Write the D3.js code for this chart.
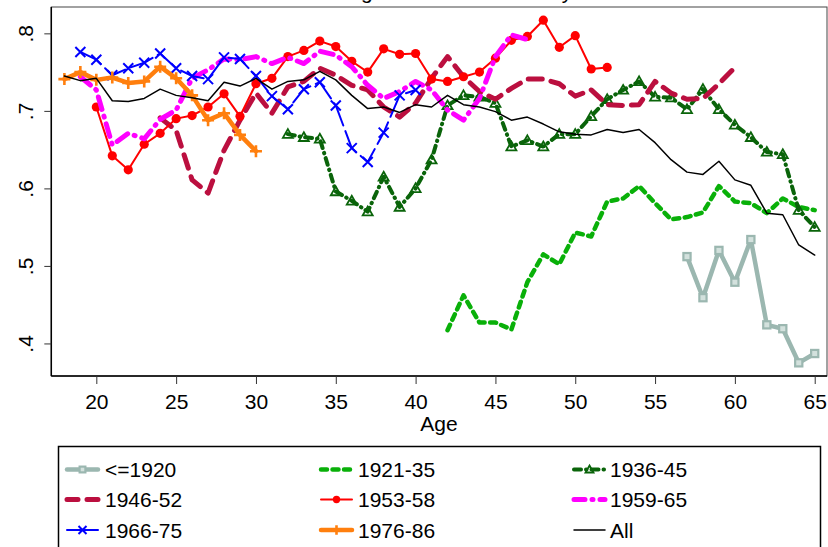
<!DOCTYPE html>
<head>
  <meta charset="utf-8">
  <script src="https://cdn.jsdelivr.net/npm/d3@7"></script>
  <style>
    body { margin:0; background:#fff; }
    text { font-family: Arial, "Liberation Sans", sans-serif; fill:#000; }
  </style>
</head>
<body>
<script>
  // data, one array per cohort (ages + values)
  var ages1920 = [57,58,59,60,61,62,63,64,65];
  var vals1920 = [.512,.459,.520,.479,.534,.424,.419,.375,.387];

  var ages2135 = [42,43,44,45,46,47,48,49,50,51,52,53,54,55,56,57,58,59,60,61,62,63,64,65];
  var vals2135 = [.417,.462,.427,.427,.418,.479,.515,.502,.543,.538,.583,.587,.603,.581,.560,.563,.569,.603,.583,.581,.568,.587,.576,.572];

  var ages3645 = [32,33,34,35,36,37,38,39,40,41,42,43,44,45,46,47,48,49,50,51,52,53,54,55,56,57,58,59,60,61,62,63,64,65];
  var vals3645 = [.670,.666,.664,.596,.584,.570,.615,.576,.600,.637,.707,.720,.718,.710,.654,.662,.654,.670,.670,.693,.715,.727,.738,.718,.717,.702,.728,.702,.682,.666,.647,.644,.572,.550];

  var ages4652 = [24,25,26,27,28,29,30,31,32,33,34,35,36,37,38,39,40,41,42,43,44,45,46,47,48,49,50,51,52,53,54,55,56,57,58,59,60];
  var vals4652 = [.691,.675,.611,.594,.649,.688,.723,.697,.731,.738,.755,.746,.733,.727,.705,.692,.710,.742,.770,.744,.725,.715,.729,.741,.741,.735,.719,.727,.708,.707,.708,.738,.723,.715,.716,.735,.756];

  var ages5358 = [20,21,22,23,24,25,26,27,28,29,30,31,32,33,34,35,36,37,38,39,40,41,42,43,44,45,46,47,48,49,50,51,52];
  var vals5358 = [.705,.642,.624,.657,.671,.690,.694,.705,.722,.693,.735,.742,.770,.778,.790,.783,.764,.750,.780,.773,.774,.741,.738,.744,.750,.768,.791,.796,.817,.782,.797,.754,.756];

  var ages5965 = [19,20,21,22,23,24,25,26,27,28,29,30,31,32,33,34,35,36,37,38,39,40,41,42,43,44,45,46,47];
  var vals5965 = [.744,.727,.656,.671,.664,.689,.701,.742,.753,.767,.766,.770,.761,.769,.761,.777,.772,.757,.733,.716,.725,.738,.727,.701,.688,.716,.770,.798,.792];

  var ages6675 = [19,20,21,22,23,24,25,26,27,28,29,30,31,32,33,34,35,36,37,38,39,40];
  var vals6675 = [.776,.766,.746,.755,.762,.774,.755,.745,.741,.769,.767,.745,.719,.702,.728,.737,.707,.652,.634,.672,.720,.727];

  var ages7686 = [18,19,20,21,22,23,24,25,26,27,28,29,30];
  var vals7686 = [.741,.750,.740,.743,.736,.738,.757,.742,.720,.688,.697,.669,.648];

  var agesAll = [18,19,20,21,22,23,24,25,26,27,28,29,30,31,32,33,34,35,36,37,38,39,40,41,42,43,44,45,46,47,48,49,50,51,52,53,54,55,56,57,58,59,60,61,62,63,64,65];
  var valsAll = [.745,.739,.742,.713,.712,.716,.728,.720,.717,.713,.737,.732,.742,.728,.738,.740,.751,.740,.720,.703,.705,.698,.708,.705,.720,.708,.705,.699,.688,.692,.683,.673,.670,.669,.676,.672,.676,.659,.637,.621,.618,.635,.611,.604,.568,.566,.527,.514];

  var xTicks = [20,25,30,35,40,45,50,55,60,65];
  var yTicks = [.4,.5,.6,.7,.8];
  var yTickLabels = [".4",".5",".6",".7",".8"];

  // series table built from the arrays above, with drawing styles
  function pts(a, v) { return a.map(function(d, i) { return {age: d, v: v[i]}; }); }
  var series = [
    {name: "<=1920",  data: pts(ages1920, vals1920), color: "#9bb7b0", width: 4.5, dash: null,       keyDash: null,       marker: "square"},
    {name: "1921-35", data: pts(ages2135, vals2135), color: "#09b009", width: 4.5, dash: "6,5.5",    keyDash: "6,5.5",    marker: null},
    {name: "1936-45", data: pts(ages3645, vals3645), color: "#0a640a", width: 4,   dash: "7,5,0.5,5", keyDash: "7,5,0.5,5", marker: "triangle"},
    {name: "1946-52", data: pts(ages4652, vals4652), color: "#bb0f3f", width: 5,   dash: "14,9",     keyDash: "11,9",     marker: null},
    {name: "1953-58", data: pts(ages5358, vals5358), color: "#ff0000", width: 2,   dash: null,       keyDash: null,       marker: "circle"},
    {name: "1959-65", data: pts(ages5965, vals5965), color: "#ff00ff", width: 5,   dash: "13,7,1,7", keyDash: "11,7,1,7", marker: null},
    {name: "1966-75", data: pts(ages6675, vals6675), color: "#0000ff", width: 2,   dash: "24,6",     keyDash: null,       marker: "x"},
    {name: "1976-86", data: pts(ages7686, vals7686), color: "#ff7f0e", width: 4.5, dash: null,       keyDash: null,       marker: "plus"},
    {name: "All",     data: pts(agesAll, valsAll),   color: "#000000", width: 1.5, dash: null,       keyDash: null,       marker: null}
  ];

  var W = 828, H = 547, fs = "21px";
  var svg = d3.select("body").append("svg")
      .attr("width", W)
      .attr("height", H);

  // plot region edges
  var pLeft = 51.3, pRight = 827, pTop = 7, pBottom = 376;

  var x = d3.scaleLinear().domain([17.18, 65.77]).range([pLeft, pRight]);
  var y = d3.scaleLinear().domain([0.358, 0.834]).range([pBottom, pTop]);

  // title, mostly cut off above the picture
  svg.append("text")
      .attr("x", 208).attr("y", -1)
      .style("font-size", fs)
      .text("Mean rate among the heads of a family");

  // frame
  svg.append("rect")
      .attr("x", pLeft).attr("y", pTop)
      .attr("width", pRight - pLeft).attr("height", pBottom - pTop)
      .attr("fill", "none").attr("stroke", "#444").attr("stroke-width", 1);

  // axes
  var xAxis = svg.append("g")
      .attr("transform", "translate(0," + pBottom + ")")
      .call(d3.axisBottom(x).tickValues(xTicks).tickSize(8).tickPadding(10).tickFormat(d3.format("d")));
  xAxis.select(".domain").attr("stroke-width", 1.5).attr("d", "M" + pLeft + ",0H" + pRight);
  xAxis.selectAll(".tick line").attr("stroke", "#333");
  xAxis.selectAll("text").style("font-size", fs).attr("font-family", null);

  var yAxis = svg.append("g")
      .attr("transform", "translate(" + pLeft + ",0)")
      .call(d3.axisLeft(y).tickValues(yTicks).tickSize(7).tickFormat(function(d, i) { return yTickLabels[i]; }));
  yAxis.select(".domain").attr("stroke-width", 1.5).attr("d", "M0," + pTop + "V" + pBottom);
  yAxis.selectAll(".tick line").attr("stroke", "#333");
  yAxis.selectAll("text")
      .style("font-size", fs).attr("font-family", null)
      .attr("text-anchor", "middle")
      .attr("x", 0).attr("y", 0).attr("dy", 0)
      .attr("transform", "translate(-18,0) rotate(-90)");

  svg.append("text")
      .attr("x", 439).attr("y", 431)
      .attr("text-anchor", "middle")
      .style("font-size", fs)
      .text("Age");

  var line = d3.line()
      .x(function(d) { return x(d.age); })
      .y(function(d) { return y(d.v); });

  function drawMarker(g, type, color, cx, cy, scale) {
    scale = scale || 1;
    if (type == "circle") {
      g.append("circle").attr("cx", cx).attr("cy", cy).attr("r", 4.6 * scale).attr("fill", color);
    } else if (type == "square") {
      var s = 3.6 * scale;
      g.append("rect").attr("x", cx - s).attr("y", cy - s).attr("width", 2 * s).attr("height", 2 * s)
        .attr("fill", "#d3e1dd").attr("stroke", color).attr("stroke-width", 2.2);
    } else if (type == "triangle") {
      var t = 5 * scale;
      g.append("path").attr("d", "M" + cx + "," + (cy - t) + "L" + (cx + t) + "," + (cy + t * 0.75) + "L" + (cx - t) + "," + (cy + t * 0.75) + "Z")
        .attr("fill", "none").attr("stroke", color).attr("stroke-width", 1.8);
    } else if (type == "x") {
      var k = 5 * scale;
      g.append("path").attr("d", "M" + (cx - k) + "," + (cy - k) + "L" + (cx + k) + "," + (cy + k) + "M" + (cx - k) + "," + (cy + k) + "L" + (cx + k) + "," + (cy - k))
        .attr("stroke", color).attr("stroke-width", 2);
    } else if (type == "plus") {
      var p = 6 * scale;
      g.append("path").attr("d", "M" + (cx - p) + "," + cy + "L" + (cx + p) + "," + cy + "M" + cx + "," + (cy - p) + "L" + cx + "," + (cy + p))
        .attr("stroke", color).attr("stroke-width", 2.6);
    }
  }

  var plot = svg.append("g");
  series.forEach(function(s) {
    var g = plot.append("g");
    g.append("path")
        .datum(s.data)
        .attr("fill", "none")
        .attr("stroke", s.color)
        .attr("stroke-width", s.width)
        .attr("stroke-linecap", "round")
        .attr("stroke-linejoin", "round")
        .attr("stroke-dasharray", s.dash)
        .attr("d", line);
    if (s.marker) {
      s.data.forEach(function(d) { drawMarker(g, s.marker, s.color, x(d.age), y(d.v)); });
    }
  });

  // legend
  var legend = svg.append("g");
  legend.append("rect")
      .attr("x", 58.5).attr("y", 446.5)
      .attr("width", 762).attr("height", 110)
      .attr("fill", "#fff").attr("stroke", "#000").attr("stroke-width", 1.5);

  var colKey = [67, 321, 574], colText = [105, 358, 610], rowY = [469.5, 499.5, 530];
  series.forEach(function(s, i) {
    var c = i % 3, r = Math.floor(i / 3);
    var x0 = colKey[c], x1 = colKey[c] + 31, yy = rowY[r];
    var g = legend.append("g");
    g.append("line")
        .attr("x1", x0).attr("x2", x1).attr("y1", yy).attr("y2", yy)
        .attr("stroke", s.color)
        .attr("stroke-width", s.width)
        .attr("stroke-linecap", "round")
        .attr("stroke-dasharray", s.keyDash);
    if (s.marker) drawMarker(g, s.marker, s.color, (x0 + x1) / 2, yy, 0.8);
    g.append("text")
        .attr("x", colText[c]).attr("y", yy + 7.5)
        .style("font-size", fs)
        .text(s.name);
  });
</script>
</body>
